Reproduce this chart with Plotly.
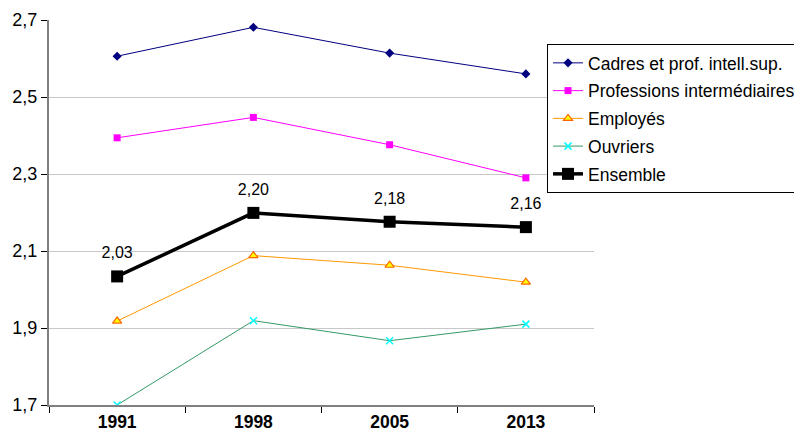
import plotly.graph_objects as go

years = ["1991", "1998", "2005", "2013"]
cadres = [2.606, 2.681, 2.614, 2.560]
prof_inter = [2.394, 2.447, 2.376, 2.290]
employes = [1.918, 2.088, 2.063, 2.019]
ouvriers = [1.700, 1.919, 1.867, 1.910]
ensemble = [2.034, 2.199, 2.176, 2.162]
ensemble_labels = ["2,03", "2,20", "2,18", "2,16"]
y_ticks = [1.7, 1.9, 2.1, 2.3, 2.5, 2.7]

font = "Liberation Sans, Arial, sans-serif"

fig = go.Figure()
fig.add_trace(go.Scatter(x=years, y=cadres, name="Cadres et prof. intell.sup.", mode="lines+markers",
                         legendgroup="a",
                         line=dict(color="#000080", width=1),
                         marker=dict(symbol="diamond", size=7, color="#000080")))
fig.add_trace(go.Scatter(x=years, y=prof_inter, name="Professions intermédiaires", mode="lines+markers",
                         legendgroup="b",
                         line=dict(color="#FF00FF", width=1),
                         marker=dict(symbol="square", size=7, color="#FF00FF")))
fig.add_trace(go.Scatter(x=years, y=employes, name="Employés", mode="lines+markers",
                         legendgroup="c",
                         line=dict(color="#FF9900", width=1),
                         marker=dict(symbol="triangle-up", size=8, color="#FFFF00",
                                     line=dict(color="#FF6600", width=1.2))))
fig.add_trace(go.Scatter(x=years, y=ouvriers, name="Ouvriers", mode="lines+markers",
                         legendgroup="d",
                         line=dict(color="#339966", width=1),
                         marker=dict(symbol="x-thin-open", size=7, color="#00FFFF",
                                     line=dict(color="#00FFFF", width=1.5))))
fig.add_trace(go.Scatter(x=years, y=ensemble, name="Ensemble", mode="lines+markers",
                         legendgroup="e",
                         line=dict(color="black", width=3.5),
                         marker=dict(symbol="square", size=12, color="black")))
# data labels for Ensemble (invisible larger marker only sets the text offset)
fig.add_trace(go.Scatter(x=years, y=ensemble, mode="markers+text", showlegend=False,
                         text=ensemble_labels, textposition="top center",
                         textfont=dict(family=font, size=16, color="black"),
                         marker=dict(size=21, color="rgba(0,0,0,0)"),
                         hoverinfo="skip"))

fig.update_layout(
    width=810, height=448,
    margin=dict(l=41, r=224, t=12, b=51, autoexpand=False),
    plot_bgcolor="white", paper_bgcolor="white",
    font=dict(family=font, size=17, color="black"),
    separators=", ",
    showlegend=True,
    legend=dict(x=0.9138, y=0.9377, xanchor="left", yanchor="top",
                bgcolor="white", bordercolor="black", borderwidth=1,
                font=dict(family=font, size=17.5, color="black"),
                tracegroupgap=2, itemwidth=30),
)
fig.update_xaxes(type="category", tickson="boundaries", ticks="outside", ticklen=6,
                 tickcolor="#000000", showline=True, linecolor="#808080", linewidth=2,
                 showgrid=False, range=[-0.5, 3.5],
                 tickfont=dict(family=font, size=17.5, color="black", weight="bold"))
fig.update_yaxes(range=[1.7, 2.7], tickvals=y_ticks, tickformat=".1f", ticks="outside", ticklen=6,
                 tickcolor="#000000", showline=True, linecolor="#808080", linewidth=2,
                 showgrid=True, gridcolor="#C8C8C8", gridwidth=1, zeroline=False,
                 tickfont=dict(family=font, size=18, color="black"))

fig.write_html("out.html")
